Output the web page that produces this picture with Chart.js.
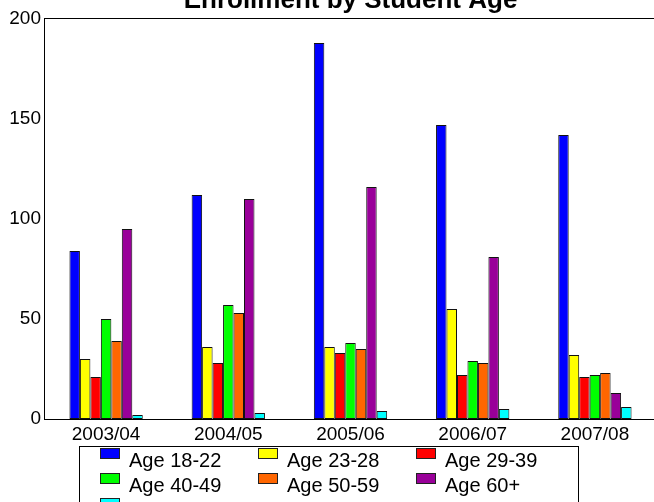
<!DOCTYPE html>
<html>
<head>
<meta charset="utf-8">
<title>Enrollment by Student Age</title>
<script src="https://cdn.jsdelivr.net/npm/chart.js@4/dist/chart.umd.min.js"></script>
<style>
  html, body { margin: 0; padding: 0; background: #fff; overflow: hidden; }
  #wrap { position: relative; width: 654px; height: 502px; overflow: hidden; }
  canvas { position: absolute; left: 0; top: 0; }
</style>
</head>
<body>
<div id="wrap"><canvas id="enrollChart" width="670" height="540"></canvas></div>
<script>
// Enrollment by Student Age - grouped bar chart

const years = ["2003/04", "2004/05", "2005/06", "2006/07", "2007/08"];
const seriesNames = ["Age 18-22", "Age 23-28", "Age 29-39", "Age 40-49", "Age 50-59", "Age 60+", "Unknown"];
const seriesColors = ["#0000FF", "#FFFF00", "#FF0000", "#00FF00", "#FF6600", "#990099", "#00FFFF"];

const age18to22 = [84, 112, 188, 147, 142];
const age23to28 = [30, 36, 36, 55, 32];
const age29to39 = [21, 28, 33, 22, 21];
const age40to49 = [50, 57, 38, 29, 22];
const age50to59 = [39, 53, 35, 28, 23];
const age60plus = [95, 110, 116, 81, 13];
const ageUnknown = [2, 3, 4, 5, 6];

const yTicks = [0, 50, 100, 150, 200];

const FONT = "'Liberation Sans', Arial, Helvetica, sans-serif";
const seriesValues = [age18to22, age23to28, age29to39, age40to49, age50to59, age60plus, ageUnknown];

// title drawn above the plot frame (partly cut off at the top of the picture)
const titlePlugin = {
  id: "titlePlugin",
  afterDraw(chart) {
    const { ctx, chartArea } = chart;
    ctx.save();
    ctx.font = "bold 26px " + FONT;
    ctx.fillStyle = "#000";
    ctx.textAlign = "center";
    ctx.textBaseline = "alphabetic";
    ctx.fillText("Enrollment by Student Age", (chartArea.left + chartArea.right) / 2, chartArea.top - 11.5);
    ctx.restore();
  },
};

// frame round the plot area
const framePlugin = {
  id: "framePlugin",
  afterDatasetsDraw(chart) {
    const { ctx, chartArea } = chart;
    ctx.save();
    ctx.strokeStyle = "#000";
    ctx.lineWidth = 1;
    ctx.strokeRect(chartArea.left - 0.5, chartArea.top - 0.5,
      chartArea.right - chartArea.left + 1, chartArea.bottom - chartArea.top + 1);
    ctx.restore();
  },
};

// boxed legend, three columns, under the axis
const boxLegend = {
  id: "boxLegend",
  afterDraw(chart) {
    const { ctx, chartArea } = chart;
    const left = chartArea.left + 34.5;
    const top = chartArea.bottom + 27.5;
    ctx.save();
    ctx.strokeStyle = "#000";
    ctx.lineWidth = 1;
    ctx.strokeRect(left, top, 499, 120);
    ctx.font = "20px " + FONT;
    ctx.textAlign = "left";
    ctx.textBaseline = "alphabetic";
    chart.data.datasets.forEach(function (ds, i) {
      const col = i % 3;
      const row = Math.floor(i / 3);
      const x = Math.round(left + 20 + col * 158);
      const y = Math.round(top + 1 + row * 25);
      ctx.fillStyle = ds.backgroundColor;
      ctx.fillRect(x, y, 20, 11);
      ctx.strokeStyle = "#222";
      ctx.strokeRect(x + 0.5, y + 0.5, 19, 10);
      ctx.fillStyle = "#000";
      ctx.fillText(ds.label, x + 29, y + 19);
    });
    ctx.restore();
  },
};

const ctx = document.getElementById("enrollChart").getContext("2d");

new Chart(ctx, {
  type: "bar",
  data: {
    labels: years,
    datasets: seriesNames.map(function (name, i) {
      return {
        label: name,
        data: seriesValues[i],
        backgroundColor: seriesColors[i],
        borderColor: "#111",
        borderWidth: 1,
        borderSkipped: false,
        categoryPercentage: 0.6,
        barPercentage: 1.0,
      };
    }),
  },
  options: {
    responsive: false,
    animation: false,
    devicePixelRatio: 1,
    layout: {
      padding: { top: 19, right: 14, left: 0, bottom: 91 },
    },
    plugins: {
      legend: { display: false },
      title: { display: false },
      tooltip: { enabled: false },
    },
    scales: {
      x: {
        grid: { display: false, drawTicks: false },
        border: { display: false },
        ticks: {
          color: "#000",
          padding: 4,
          maxRotation: 0,
          font: { family: FONT, size: 19 },
        },
        afterFit: function (scale) {
          scale.height = 30;
        },
      },
      y: {
        min: 0,
        max: 200,
        grid: { display: false, drawTicks: false },
        border: { display: false },
        afterBuildTicks: function (scale) {
          scale.ticks = yTicks.map(function (v) { return { value: v }; });
        },
        ticks: {
          color: "#000",
          padding: 4,
          font: { family: FONT, size: 19 },
        },
        afterFit: function (scale) {
          scale.width = 45;
        },
      },
    },
  },
  plugins: [framePlugin, titlePlugin, boxLegend],
});
</script>
</body>
</html>
